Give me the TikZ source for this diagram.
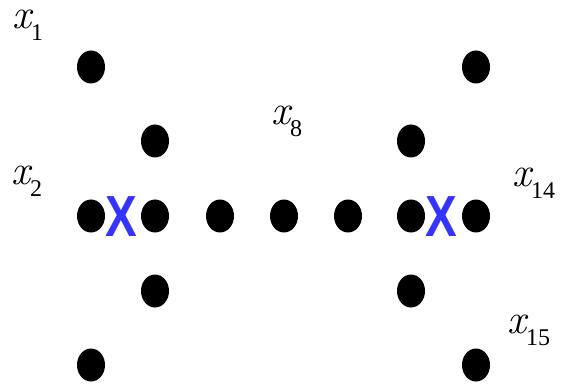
\documentclass[tikz,border=0pt]{standalone}
\usepackage{fontspec}
\newfontfamily\tnr{Liberation Serif}
\newfontfamily\xsans{Liberation Sans}
\usetikzlibrary{shapes.geometric}
\definecolor{xblue}{RGB}{52,52,250}
\newcommand{\varlab}[1]{{\fontsize{42}{42}\selectfont\itshape x}\raisebox{-12pt}{\tnr\fontsize{24}{24}\selectfont #1}}
\begin{document}
\begin{tikzpicture}[x=1pt,y=-1pt,
  dot/.style={ellipse,fill=black,inner sep=0pt,minimum width=28pt,minimum height=33pt},
  cross/.style={inner sep=0pt,text=xblue,xscale=0.82,font=\xsans\bfseries\fontsize{58}{58}\selectfont},
  lab/.style={anchor=base west,inner sep=0pt}]
\useasboundingbox (0,0) rectangle (564,387);
% dots
\node[dot] (d1) at (91,67) {};
\node[dot] (d2) at (476,67) {};
\node[dot] (d3) at (155,141) {};
\node[dot] (d4) at (411,141) {};
\node[dot] (r1) at (91,216) {};
\node[dot] (r2) at (155,216) {};
\node[dot] (r3) at (220,216) {};
\node[dot] (r4) at (284,216) {};
\node[dot] (r5) at (348,216) {};
\node[dot] (r6) at (411,216) {};
\node[dot] (r7) at (476,216) {};
\node[dot] (d5) at (155,291) {};
\node[dot] (d6) at (411,291) {};
\node[dot] (d7) at (91,365) {};
\node[dot] (d8) at (476,365) {};
% crosses
\node[cross] (c1) at (121,217) {X};
\node[cross] (c2) at (441,217) {X};
% labels
\node[lab] (l1) at (12,29) {\varlab{1}};
\node[lab] (l2) at (11,185) {\varlab{2}};
\node[lab] (l8) at (271,125) {\varlab{8}};
\node[lab] (l14) at (512,187) {\varlab{14}};
\node[lab] (l15) at (507,333) {\varlab{15}};
\end{tikzpicture}
\end{document}
